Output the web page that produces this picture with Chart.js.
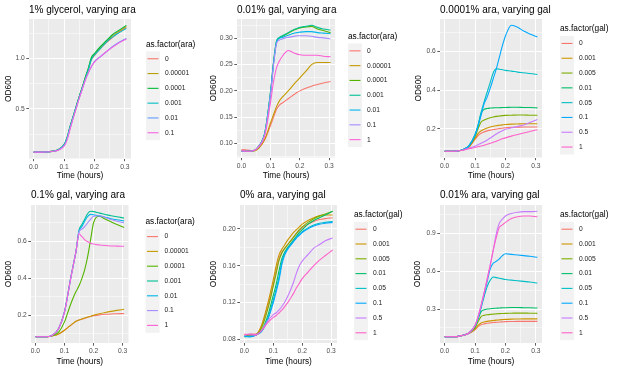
<!DOCTYPE html>
<html>
<head>
<meta charset="utf-8">
<script src="https://cdn.jsdelivr.net/npm/chart.js@4/dist/chart.umd.min.js"></script>
<style>
  html, body { margin: 0; padding: 0; background: #fff; }
  body { width: 617px; height: 371px; position: relative; overflow: hidden; }
  canvas { position: absolute; }
</style>
</head>
<body>
<canvas id="c1" width="200" height="185" style="left:0;top:0"></canvas>
<canvas id="c2" width="205" height="185" style="left:200px;top:0"></canvas>
<canvas id="c3" width="212" height="185" style="left:405px;top:0"></canvas>
<canvas id="c4" width="200" height="186" style="left:0;top:185px"></canvas>
<canvas id="c5" width="205" height="186" style="left:200px;top:185px"></canvas>
<canvas id="c6" width="212" height="186" style="left:405px;top:185px"></canvas>
<script>
// sample times (hours) shared by every panel
const times = [0, 0.02, 0.04, 0.06, 0.08, 0.10, 0.11, 0.12, 0.13, 0.14, 0.15, 0.16, 0.17, 0.18, 0.19, 0.20, 0.22, 0.24, 0.26, 0.28, 0.305];

const araLevels6 = ['0', '0.00001', '0.0001', '0.001', '0.01', '0.1'];
const araLevels7 = ['0', '0.00001', '0.0001', '0.001', '0.01', '0.1', '1'];
const galLevels = ['0', '0.001', '0.005', '0.01', '0.05', '0.1', '0.5', '1'];

// 1% glycerol, varying ara
const glycerolAra = [
    [0.07, 0.07, 0.072, 0.078, 0.092, 0.14, 0.21, 0.32, 0.42, 0.52, 0.62, 0.71, 0.80, 0.89, 0.99, 1.03, 1.10, 1.16, 1.21, 1.26, 1.31],
    [0.07, 0.07, 0.072, 0.078, 0.092, 0.14, 0.21, 0.32, 0.42, 0.52, 0.62, 0.71, 0.81, 0.90, 1.00, 1.04, 1.11, 1.17, 1.23, 1.27, 1.32],
    [0.07, 0.07, 0.072, 0.078, 0.093, 0.145, 0.215, 0.325, 0.425, 0.525, 0.625, 0.715, 0.815, 0.905, 1.01, 1.05, 1.12, 1.18, 1.24, 1.28, 1.33],
    [0.07, 0.07, 0.072, 0.078, 0.093, 0.145, 0.215, 0.325, 0.425, 0.525, 0.62, 0.71, 0.80, 0.89, 0.99, 1.035, 1.10, 1.165, 1.215, 1.255, 1.30],
    [0.07, 0.07, 0.072, 0.077, 0.09, 0.135, 0.20, 0.31, 0.41, 0.51, 0.61, 0.70, 0.79, 0.86, 0.92, 0.97, 1.02, 1.07, 1.12, 1.16, 1.20],
    [0.07, 0.07, 0.072, 0.077, 0.089, 0.13, 0.19, 0.30, 0.405, 0.505, 0.605, 0.695, 0.785, 0.86, 0.92, 0.965, 1.02, 1.07, 1.115, 1.155, 1.195]
];

// 0.01% gal, varying ara
const gal001Ara = [
    [0.088, 0.087, 0.086, 0.092, 0.107, 0.135, 0.150, 0.165, 0.173, 0.177, 0.181, 0.185, 0.189, 0.193, 0.197, 0.200, 0.205, 0.209, 0.212, 0.215, 0.218],
    [0.086, 0.085, 0.085, 0.091, 0.108, 0.140, 0.155, 0.170, 0.181, 0.188, 0.194, 0.200, 0.206, 0.213, 0.219, 0.225, 0.237, 0.250, 0.254, 0.254, 0.254],
    [0.085, 0.085, 0.086, 0.095, 0.120, 0.200, 0.255, 0.294, 0.301, 0.304, 0.307, 0.310, 0.313, 0.316, 0.318, 0.320, 0.322, 0.323, 0.318, 0.315, 0.311],
    [0.085, 0.085, 0.086, 0.095, 0.120, 0.200, 0.256, 0.295, 0.302, 0.305, 0.308, 0.311, 0.314, 0.317, 0.319, 0.321, 0.323, 0.325, 0.321, 0.318, 0.316],
    [0.085, 0.085, 0.086, 0.095, 0.120, 0.198, 0.253, 0.293, 0.300, 0.302, 0.304, 0.306, 0.308, 0.310, 0.311, 0.312, 0.313, 0.313, 0.311, 0.310, 0.309],
    [0.085, 0.085, 0.086, 0.095, 0.118, 0.195, 0.250, 0.290, 0.297, 0.299, 0.301, 0.302, 0.303, 0.304, 0.305, 0.305, 0.305, 0.304, 0.302, 0.301, 0.299],
    [0.086, 0.085, 0.086, 0.094, 0.115, 0.180, 0.218, 0.244, 0.257, 0.266, 0.273, 0.277, 0.275, 0.272, 0.270, 0.269, 0.268, 0.268, 0.268, 0.266, 0.265]
];

// 0.0001% ara, varying gal
const ara00001Gal = [
    [0.084, 0.084, 0.085, 0.090, 0.105, 0.145, 0.165, 0.177, 0.184, 0.189, 0.193, 0.196, 0.199, 0.201, 0.203, 0.205, 0.207, 0.208, 0.209, 0.209, 0.209],
    [0.084, 0.084, 0.085, 0.091, 0.107, 0.150, 0.175, 0.190, 0.198, 0.204, 0.209, 0.213, 0.216, 0.218, 0.220, 0.222, 0.224, 0.225, 0.226, 0.226, 0.226],
    [0.084, 0.084, 0.085, 0.091, 0.110, 0.160, 0.200, 0.235, 0.245, 0.252, 0.257, 0.261, 0.264, 0.266, 0.268, 0.269, 0.270, 0.271, 0.271, 0.270, 0.270],
    [0.084, 0.084, 0.085, 0.092, 0.112, 0.165, 0.215, 0.280, 0.300, 0.305, 0.307, 0.308, 0.309, 0.309, 0.310, 0.310, 0.311, 0.311, 0.310, 0.310, 0.308],
    [0.084, 0.084, 0.085, 0.092, 0.113, 0.170, 0.220, 0.285, 0.340, 0.390, 0.440, 0.490, 0.510, 0.508, 0.505, 0.502, 0.498, 0.493, 0.490, 0.486, 0.481],
    [0.084, 0.084, 0.085, 0.092, 0.112, 0.168, 0.215, 0.270, 0.330, 0.365, 0.410, 0.460, 0.510, 0.570, 0.630, 0.680, 0.735, 0.725, 0.705, 0.690, 0.675],
    [0.084, 0.084, 0.085, 0.090, 0.100, 0.110, 0.117, 0.125, 0.133, 0.142, 0.152, 0.163, 0.173, 0.182, 0.190, 0.197, 0.205, 0.212, 0.220, 0.232, 0.248],
    [0.084, 0.084, 0.085, 0.089, 0.097, 0.103, 0.107, 0.111, 0.115, 0.120, 0.125, 0.130, 0.136, 0.142, 0.148, 0.153, 0.162, 0.170, 0.178, 0.186, 0.195]
];

// 0.1% gal, varying ara
const gal01Ara = [
    [0.085, 0.085, 0.085, 0.090, 0.100, 0.120, 0.133, 0.145, 0.157, 0.168, 0.175, 0.180, 0.185, 0.190, 0.194, 0.198, 0.203, 0.206, 0.208, 0.209, 0.210],
    [0.085, 0.085, 0.085, 0.090, 0.100, 0.120, 0.133, 0.145, 0.157, 0.168, 0.175, 0.181, 0.186, 0.191, 0.196, 0.201, 0.209, 0.216, 0.222, 0.227, 0.233],
    [0.085, 0.085, 0.085, 0.092, 0.110, 0.165, 0.210, 0.255, 0.295, 0.330, 0.360, 0.400, 0.450, 0.520, 0.610, 0.700, 0.735, 0.720, 0.705, 0.690, 0.675],
    [0.085, 0.085, 0.085, 0.095, 0.130, 0.220, 0.300, 0.390, 0.470, 0.550, 0.660, 0.690, 0.720, 0.750, 0.762, 0.760, 0.752, 0.745, 0.738, 0.732, 0.726],
    [0.085, 0.085, 0.085, 0.095, 0.130, 0.220, 0.300, 0.390, 0.470, 0.550, 0.655, 0.680, 0.710, 0.735, 0.745, 0.743, 0.737, 0.730, 0.722, 0.716, 0.710],
    [0.085, 0.085, 0.085, 0.095, 0.130, 0.218, 0.298, 0.388, 0.468, 0.548, 0.652, 0.666, 0.680, 0.700, 0.720, 0.735, 0.738, 0.728, 0.718, 0.708, 0.700],
    [0.085, 0.085, 0.085, 0.095, 0.130, 0.218, 0.298, 0.388, 0.468, 0.548, 0.640, 0.625, 0.608, 0.597, 0.590, 0.585, 0.580, 0.577, 0.575, 0.574, 0.573]
];

// 0% ara, varying gal
const ara0Gal = [
    [0.085, 0.086, 0.086, 0.095, 0.115, 0.140, 0.155, 0.168, 0.175, 0.179, 0.183, 0.187, 0.191, 0.195, 0.198, 0.201, 0.205, 0.208, 0.210, 0.211, 0.212],
    [0.084, 0.084, 0.085, 0.096, 0.118, 0.145, 0.160, 0.172, 0.178, 0.183, 0.188, 0.192, 0.196, 0.199, 0.202, 0.205, 0.209, 0.212, 0.214, 0.215, 0.215],
    [0.084, 0.085, 0.085, 0.093, 0.112, 0.138, 0.152, 0.166, 0.174, 0.179, 0.183, 0.187, 0.191, 0.195, 0.199, 0.202, 0.207, 0.211, 0.214, 0.216, 0.219],
    [0.083, 0.084, 0.085, 0.090, 0.105, 0.128, 0.140, 0.155, 0.168, 0.175, 0.180, 0.184, 0.188, 0.192, 0.196, 0.199, 0.205, 0.209, 0.212, 0.215, 0.219],
    [0.083, 0.083, 0.085, 0.089, 0.102, 0.123, 0.135, 0.148, 0.165, 0.174, 0.179, 0.183, 0.187, 0.191, 0.194, 0.197, 0.201, 0.204, 0.206, 0.207, 0.208],
    [0.084, 0.083, 0.085, 0.089, 0.101, 0.120, 0.132, 0.145, 0.162, 0.172, 0.178, 0.182, 0.186, 0.190, 0.193, 0.196, 0.200, 0.203, 0.205, 0.206, 0.207],
    [0.084, 0.086, 0.085, 0.090, 0.100, 0.107, 0.109, 0.112, 0.116, 0.121, 0.127, 0.134, 0.142, 0.152, 0.160, 0.165, 0.172, 0.179, 0.183, 0.187, 0.190],
    [0.086, 0.085, 0.085, 0.090, 0.098, 0.104, 0.106, 0.109, 0.112, 0.116, 0.120, 0.125, 0.130, 0.136, 0.141, 0.146, 0.153, 0.160, 0.166, 0.171, 0.177]
];

// 0.01% ara, varying gal
const ara001Gal = [
    [0.080, 0.080, 0.081, 0.090, 0.105, 0.135, 0.160, 0.175, 0.182, 0.187, 0.190, 0.193, 0.195, 0.197, 0.198, 0.200, 0.201, 0.202, 0.202, 0.202, 0.202],
    [0.080, 0.080, 0.081, 0.090, 0.107, 0.140, 0.170, 0.190, 0.197, 0.202, 0.206, 0.209, 0.212, 0.214, 0.216, 0.218, 0.220, 0.221, 0.222, 0.222, 0.222],
    [0.080, 0.080, 0.081, 0.091, 0.110, 0.150, 0.200, 0.240, 0.250, 0.255, 0.258, 0.260, 0.262, 0.264, 0.265, 0.266, 0.267, 0.268, 0.268, 0.267, 0.266],
    [0.080, 0.080, 0.081, 0.091, 0.110, 0.160, 0.220, 0.280, 0.295, 0.300, 0.303, 0.305, 0.307, 0.309, 0.310, 0.311, 0.312, 0.312, 0.311, 0.310, 0.308],
    [0.080, 0.080, 0.081, 0.091, 0.110, 0.165, 0.230, 0.310, 0.400, 0.480, 0.530, 0.555, 0.550, 0.545, 0.540, 0.535, 0.530, 0.525, 0.520, 0.515, 0.507],
    [0.080, 0.080, 0.081, 0.091, 0.110, 0.170, 0.230, 0.320, 0.420, 0.520, 0.620, 0.665, 0.680, 0.700, 0.725, 0.740, 0.735, 0.730, 0.725, 0.720, 0.712],
    [0.080, 0.080, 0.081, 0.091, 0.110, 0.170, 0.240, 0.330, 0.430, 0.540, 0.650, 0.770, 0.900, 0.985, 1.015, 1.040, 1.060, 1.070, 1.075, 1.075, 1.078],
    [0.080, 0.080, 0.081, 0.091, 0.110, 0.170, 0.240, 0.330, 0.430, 0.540, 0.650, 0.770, 0.870, 0.950, 0.970, 0.990, 1.020, 1.035, 1.040, 1.040, 1.035]
];

// axis breaks and their labels
const xMajor = [0, 0.1, 0.2, 0.3];
const xMinor = [0.05, 0.15, 0.25];
const xLabels = ['0.0', '0.1', '0.2', '0.3'];

const glyYMajor = [0.5, 1.0];
const glyYMinor = [0.25, 0.75, 1.25];
const glyYLabels = ['0.5', '1.0'];

const gal001YMajor = [0.10, 0.15, 0.20, 0.25, 0.30];
const gal001YMinor = [0.075, 0.125, 0.175, 0.225, 0.275, 0.325];
const gal001YLabels = ['0.10', '0.15', '0.20', '0.25', '0.30'];

const odYMajor = [0.2, 0.4, 0.6];
const odYMinor = [0.1, 0.3, 0.5, 0.7];
const odYLabels = ['0.2', '0.4', '0.6'];

const ara0YMajor = [0.08, 0.12, 0.16, 0.20];
const ara0YMinor = [0.10, 0.14, 0.18];
const ara0YLabels = ['0.08', '0.12', '0.16', '0.20'];

const ara001YMajor = [0.3, 0.6, 0.9];
const ara001YMinor = [0.15, 0.45, 0.75, 1.05];
const ara001YLabels = ['0.3', '0.6', '0.9'];

// ggplot2 default hue palettes
const hue6 = ['#F8766D', '#B79F00', '#00BA38', '#00BFC4', '#619CFF', '#F564E3'];
const hue7 = ['#F8766D', '#C49A00', '#53B400', '#00C094', '#00B6EB', '#A58AFF', '#FB61D7'];
const hue8 = ['#F8766D', '#CD9600', '#7CAE00', '#00BE67', '#00BFC4', '#00A9FF', '#C77CFF', '#FF61CC'];

const FONT = '"Liberation Sans", Arial, Helvetica, sans-serif';
Chart.defaults.font.family = FONT;

function near(v, list) {
    return list.findIndex(m => Math.abs(m - v) < 1e-9);
}

// panel background, plot title and the ggplot-style legend
const ggDecor = {
    id: 'ggDecor',
    beforeDraw(chart) {
        const { ctx, chartArea: a } = chart;
        ctx.save();
        ctx.fillStyle = '#EBEBEB';
        ctx.fillRect(a.left, a.top, a.right - a.left, a.bottom - a.top);
        ctx.restore();
    },
    afterDraw(chart, args, opts) {
        const { ctx, chartArea: a } = chart;
        const sets = chart.data.datasets;
        const n = sets.length;
        const keyH = 14.8, keyW = 14;
        ctx.save();
        ctx.textBaseline = 'middle';
        ctx.textAlign = 'left';
        ctx.fillStyle = '#000';
        ctx.font = '10px ' + FONT;
        ctx.fillText(opts.title, a.left, 10);

        const mid = (a.top + a.bottom) / 2;
        const x0 = a.right + opts.legendGap;
        const y0 = mid - (n - 1) / 2 * keyH + 7;
        ctx.font = '8.3px ' + FONT;
        ctx.fillText(opts.legendTitle, x0, y0 - 14.5);
        ctx.fillStyle = '#F2F2F2';
        ctx.fillRect(x0, y0 - keyH / 2, keyW, keyH * n);
        ctx.font = '6.7px ' + FONT;
        sets.forEach((ds, i) => {
            const y = y0 + i * keyH;
            ctx.strokeStyle = ds.borderColor;
            ctx.lineWidth = 1.1;
            ctx.beginPath();
            ctx.moveTo(x0 + 1.5, y);
            ctx.lineTo(x0 + keyW - 1.5, y);
            ctx.stroke();
            ctx.fillStyle = '#1A1A1A';
            ctx.fillText(ds.label, x0 + 19, y);
        });
        ctx.restore();
    }
};

function axisOptions(major, minor, labels, min, max) {
    const all = major.concat(minor).sort((a, b) => a - b);
    return {
        type: 'linear',
        min: min,
        max: max,
        afterBuildTicks: s => { s.ticks = all.filter(v => v >= min && v <= max).map(v => ({ value: v })); },
        ticks: {
            autoSkip: false,
            maxRotation: 0,
            padding: 1.5,
            color: '#4D4D4D',
            font: { size: 6.7, family: FONT },
            callback: v => { const k = near(v, major); return k >= 0 ? labels[k] : ''; }
        },
        grid: {
            color: '#FFFFFF',
            lineWidth: c => near(c.tick.value, major) >= 0 ? 1 : 0.5,
            tickLength: 2.7,
            tickWidth: 0.8,
            tickColor: c => near(c.tick.value, major) >= 0 ? '#333333' : 'rgba(0,0,0,0)'
        },
        border: { display: false }
    };
}

function makePanel(id, p) {
    const flat = p.series.flat();
    const lo = Math.min(...flat), hi = Math.max(...flat);
    const pad = (hi - lo) * 0.05;
    const tpad = (times[times.length - 1] - times[0]) * 0.05;

    const x = axisOptions(xMajor, xMinor, xLabels, times[0] - tpad, times[times.length - 1] + tpad);
    x.afterFit = s => { s.height = p.xAxisH; };
    x.title = { display: true, text: 'Time (hours)', color: '#000', font: { size: 8.3, family: FONT }, padding: { top: 0, bottom: 4.3 } };

    const y = axisOptions(p.yMajor, p.yMinor, p.yLabels, lo - pad, hi + pad);
    y.afterFit = s => { s.width = p.yAxisW; };
    y.title = { display: true, text: 'OD600', color: '#000', font: { size: 8.3, family: FONT }, padding: { top: p.yTitlePad, bottom: 0 } };

    new Chart(document.getElementById(id), {
        type: 'line',
        data: {
            datasets: p.series.map((vals, i) => ({
                label: p.levels[i],
                data: times.map((t, j) => ({ x: t, y: vals[j] })),
                borderColor: p.colors[i],
                backgroundColor: p.colors[i],
                borderWidth: 1.1,
                pointRadius: 0,
                fill: false,
                cubicInterpolationMode: 'monotone',
                order: -i
            }))
        },
        options: {
            responsive: false,
            animation: false,
            devicePixelRatio: 1,
            layout: { padding: { top: p.top, right: p.right, left: 0, bottom: 0 } },
            plugins: {
                legend: { display: false },
                tooltip: { enabled: false },
                ggDecor: { title: p.title, legendTitle: p.legendTitle, legendGap: p.legendGap }
            },
            scales: { x: x, y: y }
        },
        plugins: [ggDecor]
    });
}

makePanel('c1', { title: '1% glycerol, varying ara', legendTitle: 'as.factor(ara)', levels: araLevels6, colors: hue6, series: glycerolAra,
    yMajor: glyYMajor, yMinor: glyYMinor, yLabels: glyYLabels,
    top: 19, right: 69, yAxisW: 29, xAxisH: 26.5, yTitlePad: 3.3, legendGap: 15 });
makePanel('c2', { title: '0.01% gal, varying ara', legendTitle: 'as.factor(ara)', levels: araLevels7, colors: hue7, series: gal001Ara,
    yMajor: gal001YMajor, yMinor: gal001YMinor, yLabels: gal001YLabels,
    top: 19, right: 70, yAxisW: 37, xAxisH: 27.5, yTitlePad: 9, legendGap: 13 });
makePanel('c3', { title: '0.0001% ara, varying gal', legendTitle: 'as.factor(gal)', levels: galLevels, colors: hue8, series: ara00001Gal,
    yMajor: odYMajor, yMinor: odYMinor, yLabels: odYLabels,
    top: 19, right: 75, yAxisW: 35, xAxisH: 27.5, yTitlePad: 9, legendGap: 18 });
makePanel('c4', { title: '0.1% gal, varying ara', legendTitle: 'as.factor(ara)', levels: araLevels7, colors: hue7, series: gal01Ara,
    yMajor: odYMajor, yMinor: odYMinor, yLabels: odYLabels,
    top: 20, right: 71.5, yAxisW: 31, xAxisH: 28, yTitlePad: 3.3, legendGap: 17 });
makePanel('c5', { title: '0% ara, varying gal', legendTitle: 'as.factor(gal)', levels: galLevels, colors: hue8, series: ara0Gal,
    yMajor: ara0YMajor, yMinor: ara0YMinor, yLabels: ara0YLabels,
    top: 20, right: 68, yAxisW: 40, xAxisH: 28, yTitlePad: 9, legendGap: 17 });
makePanel('c6', { title: '0.01% ara, varying gal', legendTitle: 'as.factor(gal)', levels: galLevels, colors: hue8, series: ara001Gal,
    yMajor: ara001YMajor, yMinor: ara001YMinor, yLabels: ara001YLabels,
    top: 20, right: 75, yAxisW: 35, xAxisH: 28, yTitlePad: 8, legendGap: 18 });
</script>
</body>
</html>
